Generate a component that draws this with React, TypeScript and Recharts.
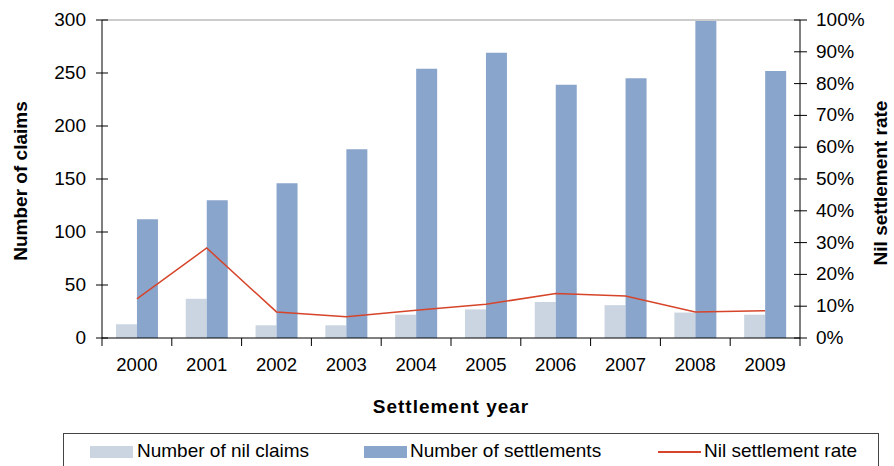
import { Bar, ComposedChart, Legend, Line, ReferenceLine, XAxis, YAxis } from "recharts";

const years = ["2000", "2001", "2002", "2003", "2004", "2005", "2006", "2007", "2008", "2009"];
const nilClaims = [13, 37, 12, 12, 22, 27, 34, 31, 24, 22];
const settlements = [112, 130, 146, 178, 254, 269, 239, 245, 299, 252];
const nilRate = [0.123, 0.283, 0.082, 0.067, 0.087, 0.106, 0.14, 0.132, 0.082, 0.086];
const leftTicks = [0, 50, 100, 150, 200, 250, 300];
const rightTicks = [0, 0.1, 0.2, 0.3, 0.4, 0.5, 0.6, 0.7, 0.8, 0.9, 1];

const FONT = "'Liberation Sans', Arial, sans-serif";
const NIL_COLOR = "#cbd5e1";
const SETTLE_COLOR = "#8aa5cc";
const RATE_COLOR = "#d6452a";
const BAND = 69.8;

const chartData = years.map((year, i) => ({
  year,
  nil: nilClaims[i],
  settlements: settlements[i],
  rate: nilRate[i]
}));

function XTick(props: any) {
  const { x, y, payload, index } = props;
  const isLast = index === years.length - 1;
  return (
    <g>
      <line x1={x - BAND / 2} x2={x - BAND / 2} y1={y} y2={y + 8} stroke="#000" />
      {isLast && <line x1={x + BAND / 2} x2={x + BAND / 2} y1={y} y2={y + 8} stroke="#000" />}
      <text x={x} y={y + 33} textAnchor="middle" fontSize={18.5} fill="#000" fontFamily={FONT}>
        {payload.value}
      </text>
    </g>
  );
}

function LeftTick(props: any) {
  const { x, y, payload } = props;
  return (
    <g>
      <line x1={x - 6} x2={x + 6} y1={y} y2={y} stroke="#000" />
      <text x={x - 16} y={y + 6} textAnchor="end" fontSize={19} fill="#000" fontFamily={FONT}>
        {payload.value}
      </text>
    </g>
  );
}

function RightTick(props: any) {
  const { x, y, payload } = props;
  return (
    <g>
      <line x1={x - 6} x2={x + 7} y1={y} y2={y} stroke="#000" />
      <text x={x + 16} y={y + 6} textAnchor="start" fontSize={19} fill="#000" fontFamily={FONT}>
        {`${Math.round(payload.value * 100)}%`}
      </text>
    </g>
  );
}

function LegendBox() {
  const text = { fontSize: 19, fontFamily: FONT, color: "#000", whiteSpace: "nowrap" as const };
  return (
    <div
      style={{
        width: 816,
        height: 40,
        border: "1px solid #444",
        boxSizing: "border-box",
        position: "relative",
        background: "#fff"
      }}
    >
      <div style={{ position: "absolute", left: 26, top: 12, width: 43, height: 12, background: NIL_COLOR }} />
      <div style={{ ...text, position: "absolute", left: 73, top: 6, lineHeight: "22px" }}>Number of nil claims</div>
      <div style={{ position: "absolute", left: 300, top: 12, width: 43, height: 12, background: SETTLE_COLOR }} />
      <div style={{ ...text, position: "absolute", left: 346, top: 6, lineHeight: "22px" }}>Number of settlements</div>
      <div style={{ position: "absolute", left: 594, top: 17, width: 43, height: 2, background: RATE_COLOR }} />
      <div style={{ ...text, position: "absolute", left: 640, top: 6, lineHeight: "22px" }}>Nil settlement rate</div>
    </div>
  );
}

export default function App() {
  return (
    <div style={{ position: "absolute", left: 0, top: 0, width: 894, height: 466, background: "#fff", overflow: "hidden" }}>
      <ComposedChart
        width={894}
        height={466}
        data={chartData}
        margin={{ top: 20, right: 0, left: 0, bottom: 0 }}
        barCategoryGap="20%"
        barGap={0}
      >
        <XAxis
          dataKey="year"
          height={128}
          tick={<XTick />}
          tickLine={false}
          tickSize={0}
          tickMargin={0}
          axisLine={{ stroke: "#000" }}
          interval={0}
          label={(p: any) => {
            const vb = p.viewBox;
            return (
              <text x={vb.x + vb.width / 2} y={vb.y + 75} textAnchor="middle" fontSize={19} letterSpacing={1} fontWeight="bold" fontFamily={FONT} fill="#000">
                Settlement year
              </text>
            );
          }}
        />
        <YAxis
          yAxisId="left"
          width={102}
          domain={[0, 300]}
          ticks={leftTicks}
          tick={<LeftTick />}
          tickLine={false}
          tickSize={0}
          tickMargin={0}
          axisLine={{ stroke: "#000" }}
          label={(p: any) => {
            const vb = p.viewBox;
            const cy = vb.y + vb.height / 2 + 2;
            return (
              <text x={27} y={cy} transform={`rotate(-90 27 ${cy})`} textAnchor="middle" fontSize={19} fontWeight="bold" fontFamily={FONT} fill="#000">
                Number of claims
              </text>
            );
          }}
        />
        <YAxis
          yAxisId="right"
          orientation="right"
          width={94}
          domain={[0, 1]}
          ticks={rightTicks}
          tick={<RightTick />}
          tickLine={false}
          tickSize={0}
          tickMargin={0}
          axisLine={{ stroke: "#000" }}
          label={(p: any) => {
            const vb = p.viewBox;
            const cy = vb.y + vb.height / 2 + 4;
            return (
              <text x={887} y={cy} transform={`rotate(-90 887 ${cy})`} textAnchor="middle" fontSize={19} fontWeight="bold" fontFamily={FONT} fill="#000">
                Nil settlement rate
              </text>
            );
          }}
        />
        <ReferenceLine yAxisId="left" y={300} stroke="#999" />
        <Bar yAxisId="left" dataKey="nil" name="Number of nil claims" fill={NIL_COLOR} isAnimationActive={false} />
        <Bar yAxisId="left" dataKey="settlements" name="Number of settlements" fill={SETTLE_COLOR} isAnimationActive={false} />
        <Line
          yAxisId="right"
          type="linear"
          dataKey="rate"
          name="Nil settlement rate"
          stroke={RATE_COLOR}
          strokeWidth={1.5}
          dot={false}
          activeDot={false}
          isAnimationActive={false}
        />
        <Legend
          verticalAlign="middle"
          content={() => <LegendBox />}
          wrapperStyle={{ position: "absolute", top: 433, left: 63, width: 816, height: 40, bottom: "auto" }}
        />
      </ComposedChart>
    </div>
  );
}
